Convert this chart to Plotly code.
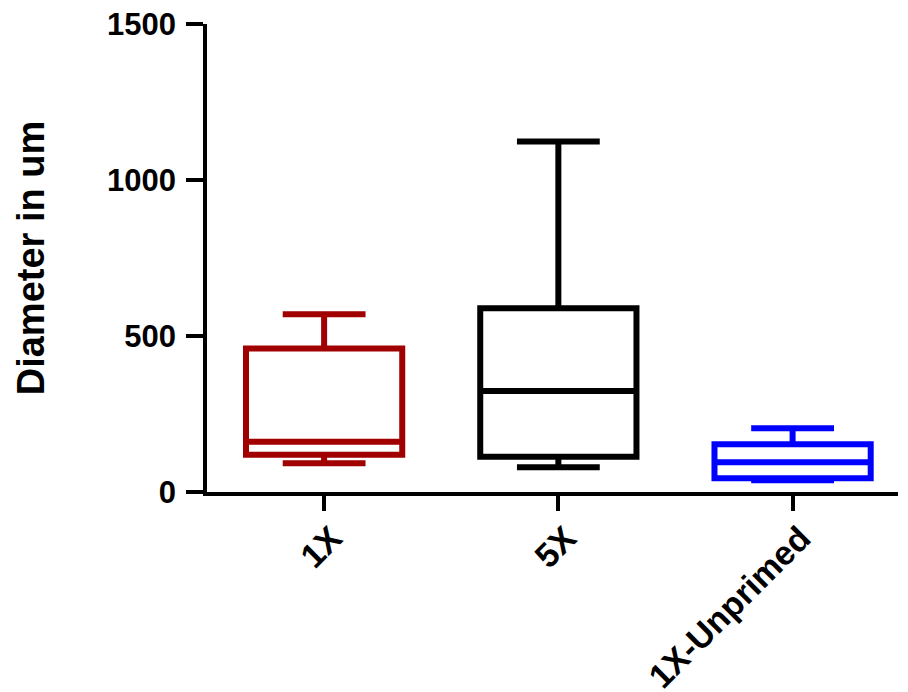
import plotly.graph_objects as go

categories = ["1X", "5X", "1X-Unprimed"]
lower_whisker = [92, 79, 38]
q1_values = [119, 113, 44]
medians = [161, 324, 95]
q3_values = [460, 589, 153]
upper_whisker = [570, 1123, 204]
colors = ["#A00000", "#000000", "#0000FF"]

y_ticks = [0, 500, 1000, 1500]

FONT = "Liberation Sans, Arial, sans-serif"

fig = go.Figure()
for i, cat in enumerate(categories):
    fig.add_trace(go.Box(
        x=[cat],
        q1=[q1_values[i]],
        median=[medians[i]],
        q3=[q3_values[i]],
        lowerfence=[lower_whisker[i]],
        upperfence=[upper_whisker[i]],
        line=dict(color=colors[i], width=6),
        fillcolor="rgba(0,0,0,0)",
        whiskerwidth=0.53,
        width=0.667,
        boxpoints=False,
        showlegend=False,
        hoverinfo="skip",
    ))

fig.update_layout(
    width=908, height=692,
    margin=dict(l=207, r=10, t=24, b=200),
    paper_bgcolor="white",
    plot_bgcolor="white",
    font=dict(family=FONT, color="black"),
    boxmode="overlay",
)
fig.update_xaxes(
    type="category",
    categoryorder="array", categoryarray=categories,
    range=[-0.5, 2.45],
    automargin=False,
    showline=True, linecolor="black", linewidth=3.5,
    ticks="outside", ticklen=15, tickwidth=3.5, tickcolor="black",
    tickangle=-45,
    ticklabelstandoff=-6,
    ticklabelshift=8,
    tickfont=dict(size=34, family=FONT, color="black", weight="bold"),
    showgrid=False, zeroline=False,
)
fig.update_yaxes(
    range=[0, 1500],
    tickvals=y_ticks,
    ticktext=[str(v) for v in y_ticks],
    automargin=False,
    showline=True, linecolor="black", linewidth=3.5,
    ticks="outside", ticklen=17, tickwidth=3.5, tickcolor="black",
    ticklabelstandoff=4,
    tickfont=dict(size=31, family=FONT, color="black", weight="bold"),
    title=dict(text="Diameter in um", font=dict(size=38, family=FONT, color="black", weight="bold"), standoff=52),
    showgrid=False, zeroline=False,
)

fig.write_html("out.html")
